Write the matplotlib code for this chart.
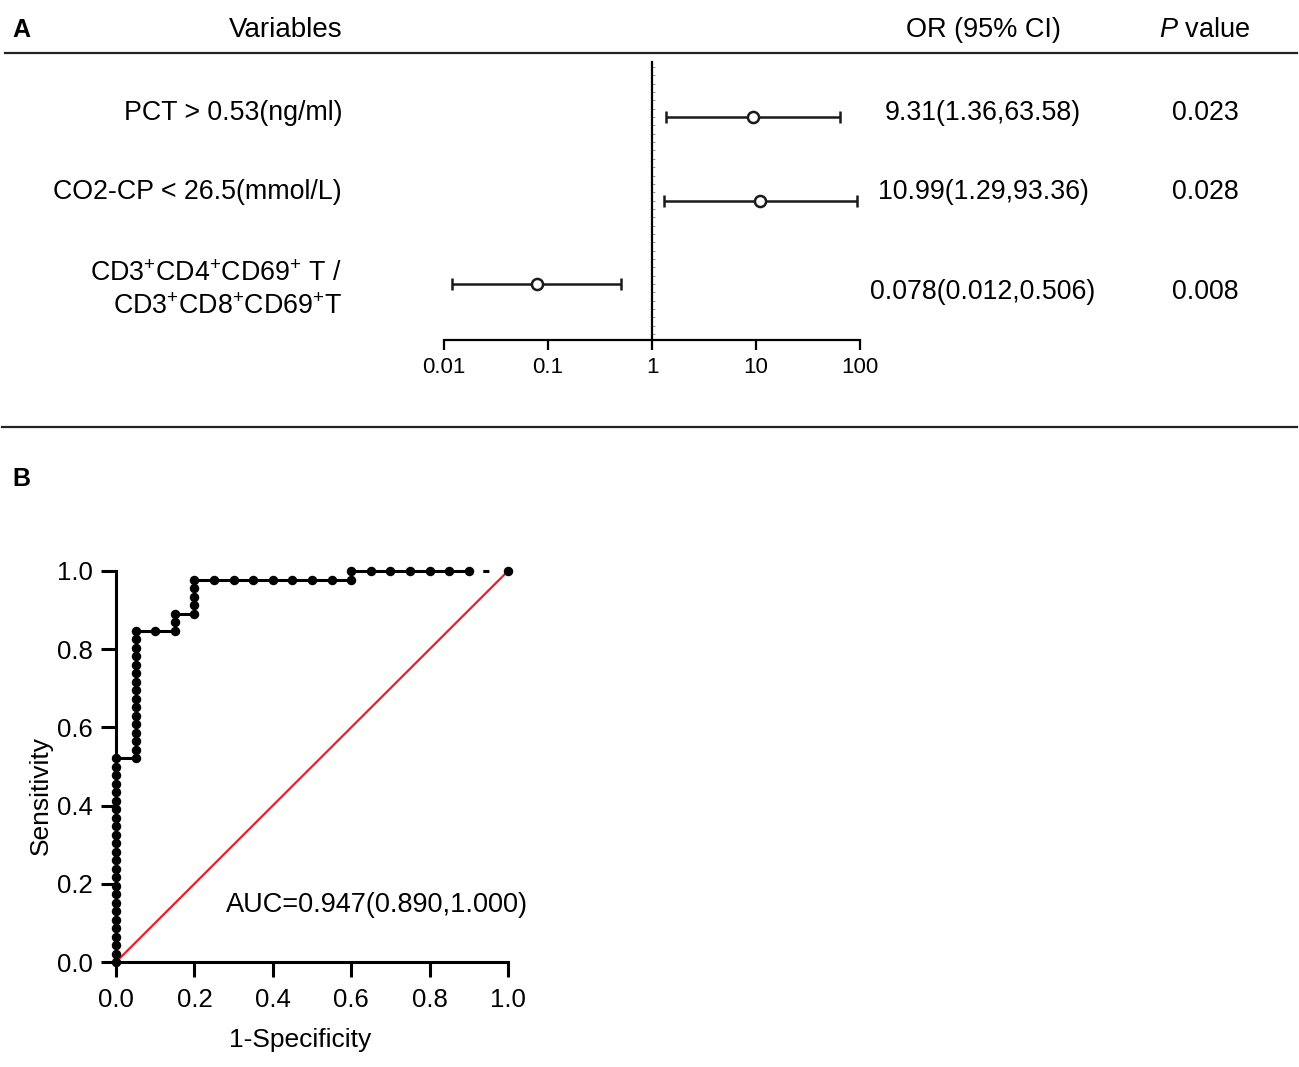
import matplotlib
matplotlib.use("Agg")
import matplotlib.pyplot as plt
from matplotlib.lines import Line2D
from matplotlib.ticker import MultipleLocator, NullLocator, FixedLocator, FixedFormatter
import numpy as np

plt.rcParams['font.family'] = ['Liberation Sans', 'DejaVu Sans']
plt.rcParams['mathtext.fontset'] = 'custom'
plt.rcParams['mathtext.rm'] = 'Liberation Sans'
plt.rcParams['mathtext.it'] = 'Liberation Sans:italic'
plt.rcParams['mathtext.bf'] = 'Liberation Sans:bold'

# ---- panel A data (forest plot) ----
variables = ["PCT > 0.53(ng/ml)", "CO2-CP < 26.5(mmol/L)",
             "CD3$^{+}$CD4$^{+}$CD69$^{+}$ T /\nCD3$^{+}$CD8$^{+}$CD69$^{+}$T"]
odds_ratio = [9.31, 10.99, 0.078]
ci_low = [1.36, 1.29, 0.012]
ci_high = [63.58, 93.36, 0.506]
or_text = ["9.31(1.36,63.58)", "10.99(1.29,93.36)", "0.078(0.012,0.506)"]
p_values = ["0.023", "0.028", "0.008"]
or_ticks = [0.01, 0.1, 1, 10, 100]
or_tick_labels = ["0.01", "0.1", "1", "10", "100"]

# ---- panel B data (ROC curve) ----
n_pos = 46
fpr = [0.0] * 25 + [0.05] * 16 + [0.10, 0.15, 0.15, 0.15, 0.20, 0.20, 0.20, 0.20, 0.20,
       0.25, 0.30, 0.35, 0.40, 0.45, 0.50, 0.55, 0.60, 0.60,
       0.65, 0.70, 0.75, 0.80, 0.85, 0.90, 1.0]
tp = [0, 1, 2, 3, 4, 5, 6, 7, 8, 9, 10, 11, 12, 13, 14, 15, 16, 17, 18, 19, 20, 21, 22, 23, 24,
      24, 25, 26, 27, 28, 29, 30, 31, 32, 33, 34, 35, 36, 37, 38, 39,
      39, 39, 40, 41, 41, 42, 43, 44, 45,
      45, 45, 45, 45, 45, 45, 45, 45, 46,
      46, 46, 46, 46, 46, 46, 46]
tpr = [t / n_pos for t in tp]
auc_text = "AUC=0.947(0.890,1.000)"

W, H = 1299, 1067
fig = plt.figure(figsize=(W / 100, H / 100), dpi=100)


def fx(x):
    return x / W


def fy(y):
    return 1 - y / H


# headers and separators
fig.text(fx(12), fy(30), "A", fontsize=18, fontweight='bold', va='center')
fig.text(fx(286), fy(30), "Variables", fontsize=20, ha='center', va='center')
fig.text(fx(983), fy(30), "OR (95% CI)", fontsize=19.5, ha='center', va='center')
fig.text(fx(1205), fy(30), "$\\mathit{P}$ value", fontsize=19.5, ha='center', va='center')
fig.add_artist(Line2D([fx(5), fx(1297)], [fy(53), fy(53)], color='#222222', lw=1.6))
fig.add_artist(Line2D([fx(2), fx(1297)], [fy(427), fy(427)], color='#222222', lw=1.6))
fig.text(fx(12), fy(479), "B", fontsize=18, fontweight='bold', va='center')

# ---- forest plot ----
axf = fig.add_axes([fx(444), fy(340), (860 - 444) / W, (340 - 62) / H])
rows = [3, 2, 1]
xerr = [np.array(odds_ratio) - np.array(ci_low), np.array(ci_high) - np.array(odds_ratio)]
axf.errorbar(odds_ratio, rows, xerr=xerr, fmt='o', color='#1a1a1a', ecolor='#1a1a1a',
             elinewidth=1.8, capsize=4.5, capthick=1.8, markersize=8,
             markerfacecolor='white', markeredgewidth=1.8, zorder=3)
axf.set_xscale('log')
axf.set_xlim(0.01, 100)
axf.set_ylim(0.33, 3.66)
axf.spines['top'].set_visible(False)
axf.spines['right'].set_visible(False)
axf.spines['left'].set_position(('data', 1))
axf.spines['left'].set_linewidth(1.6)
axf.spines['bottom'].set_linewidth(1.6)
axf.xaxis.set_major_locator(FixedLocator(or_ticks))
axf.xaxis.set_major_formatter(FixedFormatter(or_tick_labels))
axf.xaxis.set_minor_locator(NullLocator())
axf.tick_params(axis='x', direction='out', length=7, width=1.6, labelsize=16, pad=5)
axf.yaxis.set_major_locator(MultipleLocator(0.1))
axf.tick_params(axis='y', direction='in', length=2.5, width=0.7, color='#999999',
                labelleft=False)
axf.patch.set_alpha(0)

label_y = [113, 192]
for name, yy in zip(variables[:2], label_y):
    fig.text(fx(342), fy(yy), name, fontsize=19.3, ha='right', va='center')
line1, line2 = variables[2].split("\n")
fig.text(fx(342), fy(274), line1, fontsize=19.3, ha='right', va='center')
fig.text(fx(342), fy(307), line2, fontsize=19.3, ha='right', va='center')

value_y = [113, 192, 292]
for txt, pv, yy in zip(or_text, p_values, value_y):
    fig.text(fx(983), fy(yy), txt, fontsize=19.3, ha='center', va='center')
    fig.text(fx(1205), fy(yy), pv, fontsize=19.3, ha='center', va='center')

# ---- ROC curve ----
axr = fig.add_axes([fx(116), fy(962), 392 / W, 391 / H])
axr.plot([0, 1], [0, 1], color='#e8202a', lw=1.6, zorder=2)
axr.plot(fpr[:-1], tpr[:-1], color='black', lw=2.2, zorder=3, clip_on=False)
axr.plot(fpr[-2:], tpr[-2:], color='black', lw=2.2, zorder=3, clip_on=False,
         linestyle=(8.6, (2.0, 11.1)))
axr.plot(fpr, tpr, 'o', color='black', markersize=5.8, zorder=4, clip_on=False)
axr.set_xlim(0, 1)
axr.set_ylim(0, 1)
axr.spines['top'].set_visible(False)
axr.spines['right'].set_visible(False)
axr.spines['left'].set_linewidth(2.2)
axr.spines['bottom'].set_linewidth(2.2)
axr.set_xticks([0, 0.2, 0.4, 0.6, 0.8, 1.0])
axr.set_yticks([0, 0.2, 0.4, 0.6, 0.8, 1.0])
axr.xaxis.set_major_formatter(plt.FormatStrFormatter('%.1f'))
axr.yaxis.set_major_formatter(plt.FormatStrFormatter('%.1f'))
axr.tick_params(direction='out', length=10.5, width=2.2, labelsize=18.5, pad=8)
axr.tick_params(axis='y', pad=6)
axr.set_xlabel("1-Specificity", fontsize=19)
axr.set_ylabel("Sensitivity", fontsize=19)
axr.xaxis.set_label_coords(0.469, -0.168)
axr.yaxis.set_label_coords(-0.16, 0.427)
axr.text(0.28, 0.145, auc_text, fontsize=19.5, ha='left', va='center', transform=axr.transAxes)

fig.savefig("out.png", dpi=100)
